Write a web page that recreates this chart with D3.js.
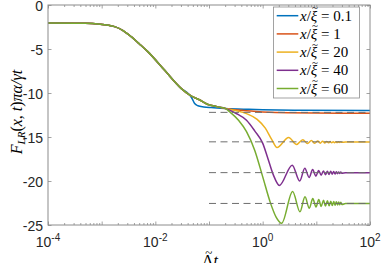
<!DOCTYPE html>
<html><head><meta charset="utf-8">
<script src="https://cdn.jsdelivr.net/npm/d3@7"></script>
<style>
body{margin:0;background:#fff;}
svg{display:block;}
</style></head>
<body>
<svg id="c" width="382" height="263"></svg>
<script>
// ---------- data ----------
const seriesNames = ["0.1", "1", "20", "40", "60"];
const seriesColors = ["#0072BD", "#D95319", "#EDB120", "#7E2F8E", "#77AC30"];

// shared early-time part (t, value)
const commonT = [1e-4, 3.16e-4, 5e-4, 8.5e-4, 1.74e-3, 2.5e-3, 3.55e-3, 5e-3, 7.24e-3, 1.48e-2, 3.02e-2, 4.4e-2];
const commonV = [-2.05, -2.06, -2.08, -2.16, -2.46, -2.9, -3.6, -4.4, -5.3, -7.4, -9.47, -10.25];

// part shared by all curves except x/xi=0.1
const midT = [0.0676, 0.0955, 0.14, 0.2];
const midV = [-10.8, -11.3, -11.55, -11.75];

const blueT = [0.049, 0.054, 0.062, 0.08, 0.11, 0.2, 0.5, 1, 5, 100];
const blueV = [-10.7, -11.2, -11.45, -11.58, -11.66, -11.76, -11.85, -11.9, -11.96, -12.0];

const orangeT = [0.4, 1, 3, 100];
const orangeV = [-11.97, -12.15, -12.25, -12.3];

const yellowT = [0.316, 0.5, 0.79, 1.12, 1.48, 1.85, 3.05, 4.3, 5.6, 6.85, 8.1, 9.35, 10.6, 11.85, 13.1, 14.35, 15.6, 16.85, 18.1, 19.35, 20.6, 21.85, 23.1, 24.35, 25.6, 26.85, 28.1, 29.35, 35, 100];
const yellowV = [-12.0, -12.35, -13.0, -14.0, -15.3, -16.2, -15.05, -15.85, -15.3, -15.75, -15.4, -15.72, -15.45, -15.7, -15.47, -15.68, -15.5, -15.66, -15.52, -15.65, -15.53, -15.64, -15.54, -15.63, -15.55, -15.62, -15.56, -15.61, -15.58, -15.58];

const purpleT = [0.316, 0.5, 0.71, 1, 1.26, 1.58, 2.05, 3.55, 4.9, 6.1, 7.35, 8.55, 9.8, 11.05, 12.3, 13.55, 14.8, 16.05, 17.3, 18.55, 19.8, 21.05, 22.3, 23.55, 24.8, 26.05, 27.3, 28.55, 29.8, 35, 100];
const purpleV = [-12.3, -13.1, -14.3, -15.7, -17.5, -19.3, -20.5, -18.2, -20.0, -18.55, -19.6, -18.7, -19.45, -18.8, -19.35, -18.85, -19.3, -18.9, -19.25, -18.9, -19.22, -18.92, -19.2, -18.95, -19.17, -18.97, -19.15, -18.98, -19.12, -19.05, -19.05];

const greenT = [0.25, 0.355, 0.5, 0.71, 1, 1.38, 1.78, 2.26, 3.62, 4.95, 6.15, 7.4, 8.6, 9.85, 11.1, 12.3, 13.6, 14.8, 16.1, 17.3, 18.6, 19.8, 21.1, 22.3, 23.6, 24.8, 26.1, 27.3, 28.6, 30, 35, 100];
const greenV = [-12.2, -13.1, -14.4, -16.5, -19.5, -22.4, -24.1, -24.8, -21.2, -23.5, -21.8, -23.1, -22.0, -22.95, -22.1, -22.9, -22.2, -22.85, -22.25, -22.8, -22.3, -22.78, -22.33, -22.75, -22.36, -22.72, -22.4, -22.7, -22.42, -22.68, -22.55, -22.55];

// dashed asymptotes
const asymT = [0.1, 100];
const asymV = [-12.2, -15.55, -19.05, -22.55];

const xMajorTicks = [1e-4, 1e-3, 1e-2, 1e-1, 1, 10, 100];
const xLabelTicks = [1e-4, 1e-2, 1, 100];
const yTicks = [0, -5, -10, -15, -20, -25];

// ---------- build series ----------
function zip(t, v) { return t.map((d, i) => ({ t: d, v: v[i] })); }
const common = zip(commonT, commonV);
const mid = zip(midT, midV);
const series = [
  common.concat(zip(blueT, blueV)),
  common.concat(mid, zip(orangeT, orangeV)),
  common.concat(mid, zip(yellowT, yellowV)),
  common.concat(mid, zip(purpleT, purpleV)),
  common.concat(mid, zip(greenT, greenV))
];

// ---------- layout ----------
const L = 48, R = 370, T = 5, B = 225;
const svg = d3.select("#c");
const x = d3.scaleLog().domain([1e-4, 100]).range([L, R]);
const y = d3.scaleLinear().domain([-25, 0]).range([B, T]);

const line = d3.line().x(d => x(d.t)).y(d => y(d.v)).curve(d3.curveMonotoneX);

svg.append("clipPath").attr("id", "clip")
  .append("rect").attr("x", L).attr("y", T).attr("width", R - L).attr("height", B - T);

const g = svg.append("g").attr("clip-path", "url(#clip)");
series.forEach((s, i) => {
  g.append("path").attr("d", line(s)).attr("fill", "none")
    .attr("stroke", seriesColors[i]).attr("stroke-width", 1.5)
    .attr("stroke-linejoin", "round");
});
asymV.forEach(v => {
  g.append("path").attr("d", line(asymT.map(t => ({ t, v }))))
    .attr("fill", "none").attr("stroke", "#6e6e6e").attr("stroke-width", 1)
    .attr("stroke-dasharray", "7,4.5");
});

// ---------- axes ----------
const axisColor = "#8c8c8c";
const minorTicks = x.ticks().filter(t => !xMajorTicks.some(m => Math.abs(m - t) / m < 1e-9));
function drawAx(gen, tr) {
  const a = svg.append("g").attr("transform", tr).call(gen);
  a.selectAll("text").remove();
  a.select(".domain").remove();
  a.selectAll("line").attr("stroke", axisColor).attr("stroke-width", 0.8);
}
drawAx(d3.axisBottom(x).tickValues(xMajorTicks).tickSize(-3.5), `translate(0,${B})`);
drawAx(d3.axisBottom(x).tickValues(minorTicks).tickSize(-2), `translate(0,${B})`);
drawAx(d3.axisTop(x).tickValues(xMajorTicks).tickSize(-3.5), `translate(0,${T})`);
drawAx(d3.axisTop(x).tickValues(minorTicks).tickSize(-2), `translate(0,${T})`);
drawAx(d3.axisLeft(y).tickValues(yTicks).tickSize(-3.5), `translate(${L},0)`);
drawAx(d3.axisRight(y).tickValues(yTicks).tickSize(-3.5), `translate(${R},0)`);

svg.append("rect").attr("x", L).attr("y", T).attr("width", R - L).attr("height", B - T)
  .attr("fill", "none").attr("stroke", axisColor).attr("stroke-width", 1);

const tickFont = "'Liberation Sans', Arial, sans-serif";
const textColor = "#262626";
yTicks.forEach(v => {
  svg.append("text").attr("x", L - 5).attr("y", y(v) + 6)
    .attr("text-anchor", "end").attr("font-family", tickFont).attr("font-size", 14)
    .attr("fill", textColor).text(v);
});
xLabelTicks.forEach(t => {
  const e = Math.round(Math.log10(t));
  const txt = svg.append("text").attr("x", x(t)).attr("y", 247)
    .attr("text-anchor", "middle").attr("font-family", tickFont).attr("font-size", 14)
    .attr("fill", textColor);
  txt.append("tspan").text("10");
  txt.append("tspan").attr("dy", -6).attr("font-size", 10).text(String(e));
});

// helper: put a tilde over a given character of a text element
function addTilde(textSel, idx, size, lift) {
  const node = textSel.node();
  const ext = node.getExtentOfChar(idx);
  const parent = d3.select(node.parentNode);
  parent.append("text").attr("x", ext.x + ext.width / 2 + 1).attr("y", ext.y + lift)
    .attr("text-anchor", "middle").attr("font-family", "'Liberation Serif', serif")
    .attr("font-size", size).attr("fill", "#000").text("~");
}

// axis labels
const serif = "'Liberation Serif', 'DejaVu Serif', serif";
const yl = svg.append("text").attr("transform", `translate(22,${(T + B) / 2 - 3}) rotate(-90)`)
  .attr("text-anchor", "middle").attr("font-family", serif).attr("font-size", 16)
  .attr("fill", "#000");
yl.append("tspan").attr("font-style", "italic").text("F");
yl.append("tspan").attr("font-style", "italic").attr("font-size", 11).attr("dy", 3).text("LR");
yl.append("tspan").attr("dy", -3).text("(");
yl.append("tspan").attr("font-style", "italic").text("x");
yl.append("tspan").text(", ");
yl.append("tspan").attr("font-style", "italic").text("t");
yl.append("tspan").text(")");
yl.append("tspan").attr("font-style", "italic").text("πα/γt");

const xg = svg.append("g");
const xl = xg.append("text").attr("x", 210).attr("y", 266).attr("text-anchor", "middle")
  .attr("font-family", serif).attr("font-size", 16).attr("fill", "#000");
xl.append("tspan").text("Λ");
xl.append("tspan").attr("font-style", "italic").text("t");
addTilde(xl, 0, 13, 4.5);

// ---------- legend ----------
const lg = svg.append("g");
lg.append("rect").attr("x", 273.5).attr("y", 7).attr("width", 86).attr("height", 91)
  .attr("fill", "#fff").attr("stroke", "#8c8c8c").attr("stroke-width", 0.8);
seriesNames.forEach((n, i) => {
  const yy = 15.7 + i * 18.2;
  lg.append("line").attr("x1", 276.7).attr("x2", 298.3).attr("y1", yy).attr("y2", yy)
    .attr("stroke", seriesColors[i]).attr("stroke-width", 1.5);
  const t = lg.append("text").attr("x", 300).attr("y", yy + 5)
    .attr("font-family", serif).attr("font-size", 15).attr("fill", "#000");
  t.append("tspan").attr("font-style", "italic").text("x");
  t.append("tspan").text("/");
  t.append("tspan").attr("font-style", "italic").text("ξ");
  t.append("tspan").text(" = " + n);
  addTilde(t, 2, 11, 3.5);
});
</script>
</body></html>
